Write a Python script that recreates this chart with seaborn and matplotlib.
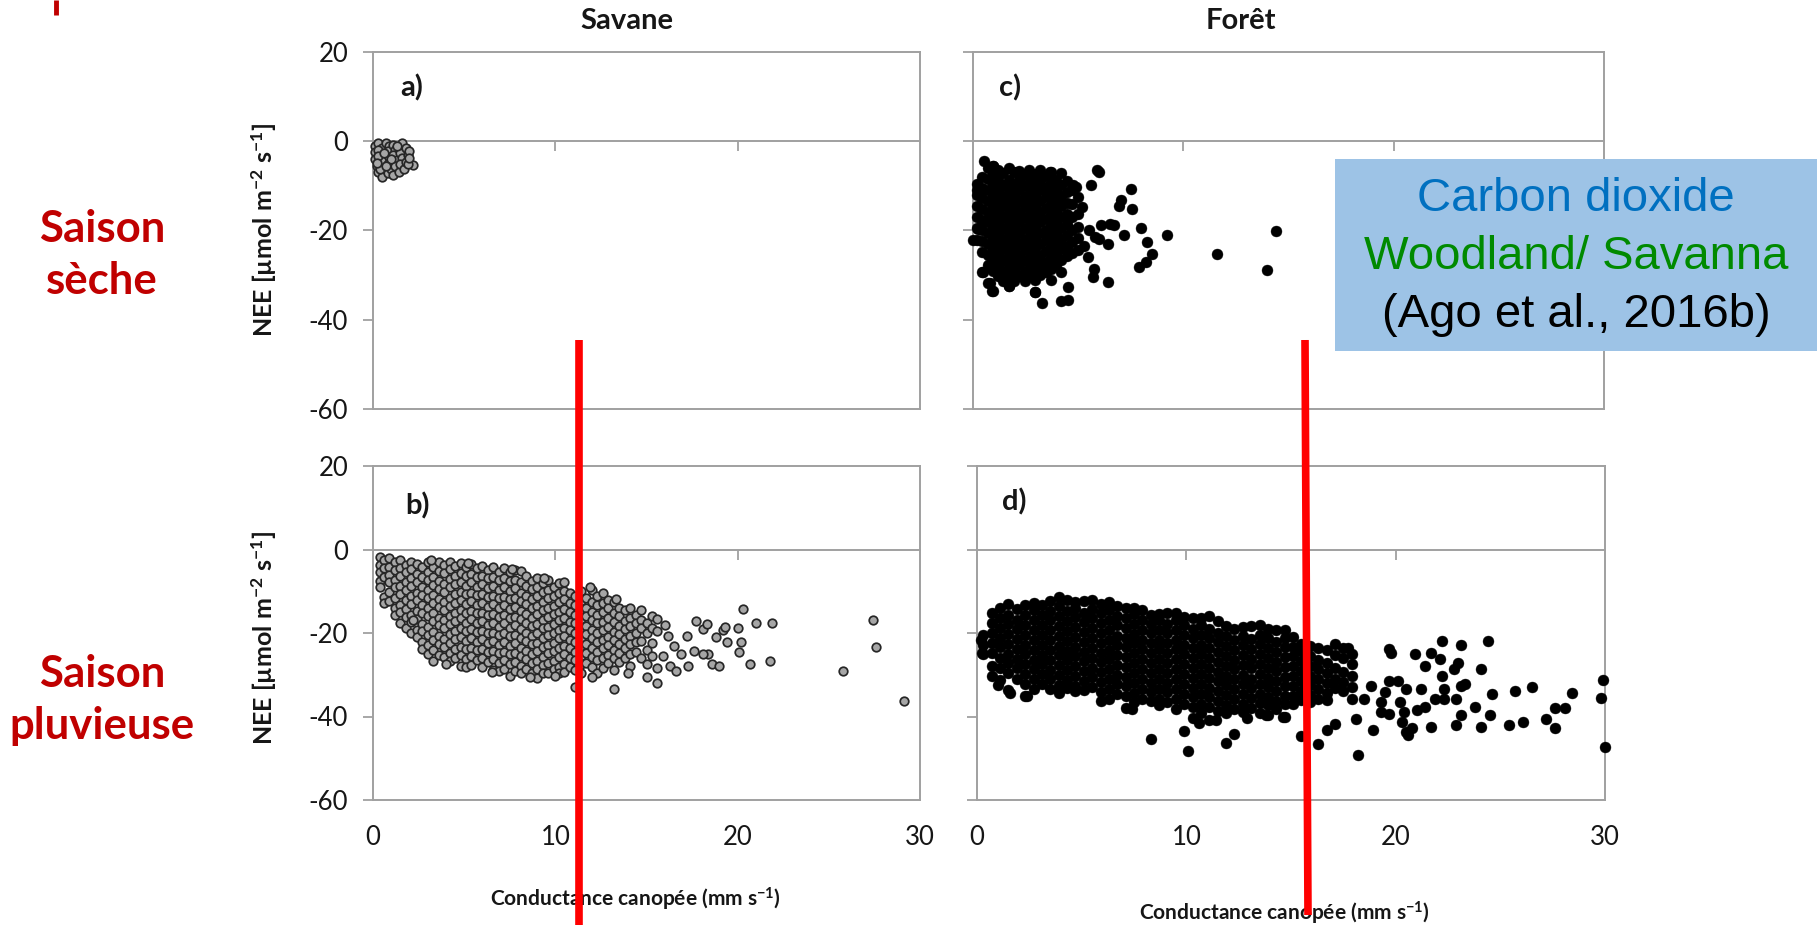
import matplotlib
matplotlib.use("Agg")
import matplotlib.pyplot as plt
import seaborn as sns
import pandas as pd
from matplotlib.lines import Line2D
from matplotlib.patches import Rectangle

# ---------------- data ----------------
# x = canopy conductance (mm s-1), y = NEE (umol m-2 s-1)
x_ticks = [0, 10, 20, 30]
y_ticks = [-60, -40, -20, 0, 20]

# a) Savane, saison seche
a_pts = [(0.1, -1.0), (0.1, -2.5), (0.1, -4.0), (0.2, -5.5), (0.3, -7.0), (0.5, -8.0),
         (0.3, -0.5), (0.5, -1.5), (0.5, -3.0), (0.5, -4.5), (0.6, -6.0), (0.8, -7.2),
         (0.7, -0.3), (0.9, -1.0), (0.8, -2.2), (0.9, -3.6), (0.8, -5.0), (1.0, -6.3),
         (1.1, -7.5), (1.1, -0.8), (1.2, -2.0), (1.1, -3.0), (1.3, -4.2), (1.2, -5.5),
         (1.4, -6.8), (1.4, -1.2), (1.5, -2.6), (1.6, -3.8), (1.5, -5.0), (1.7, -6.2),
         (1.6, -0.4), (1.8, -1.6), (1.9, -3.0), (1.8, -4.6), (2.0, -2.2), (2.2, -5.4),
         (0.3, -2.0), (0.3, -3.4), (0.6, -2.6), (1.0, -4.0), (0.4, -6.2), (0.2, -4.8),
         (1.3, -1.0), (0.7, -5.5), (1.9, -5.0), (2.0, -3.8)]

# b) Savane, saison pluvieuse (dense band, column by column)
b_core_gc = [0.4, 0.6, 0.9, 1.2, 1.5, 1.8, 2.1, 2.4, 2.7, 3.0, 3.3, 3.6, 3.9, 4.2, 4.5,
             4.8, 5.1, 5.4, 5.7, 6.0, 6.3, 6.6, 6.9, 7.2, 7.5, 7.8, 8.1, 8.4, 8.7, 9.0,
             9.3, 9.6, 9.9, 10.2, 10.5, 10.8, 11.1, 11.4, 11.7, 12.0, 12.3, 12.6, 12.9,
             13.2, 13.5, 13.8, 14.1, 14.4, 14.7, 15.0, 15.3, 15.6]
b_core_nee = [
    [-1.8, -3.6, -5.3, -7.6, -9.1],
    [-2.6, -4.4, -6.7, -11.4, -12.9],
    [-2.0, -4.1, -6.2, -7.9, -10.2, -12.4],
    [-3.1, -4.9, -7.2, -9.0, -11.6, -14.1, -15.8],
    [-2.4, -4.4, -6.3, -8.7, -10.6, -13.2, -15.0, -17.6],
    [-3.6, -5.3, -7.8, -9.6, -12.1, -14.3, -16.2, -18.7],
    [-2.9, -4.7, -6.9, -8.8, -11.2, -13.0, -15.6, -17.4, -20.1],
    [-3.5, -5.9, -7.8, -10.3, -12.2, -14.8, -16.6, -19.2, -21.0],
    [-4.3, -6.5, -8.9, -10.8, -13.3, -15.2, -17.8, -19.6, -22.1, -23.8],
    [-3.0, -5.3, -7.2, -9.7, -11.6, -14.1, -16.0, -18.5, -20.4, -22.9, -25.1],
    [-4.1, -6.6, -8.4, -10.9, -12.8, -15.3, -17.2, -19.7, -21.6, -24.1, -26.6],
    [-2.9, -5.1, -7.5, -9.4, -11.9, -13.8, -16.3, -18.2, -20.7, -22.6, -25.2],
    [-3.7, -5.7, -8.2, -10.1, -12.6, -14.5, -17.0, -18.9, -21.4, -23.3, -25.8],
    [-3.0, -4.7, -7.1, -9.1, -11.5, -13.5, -15.9, -17.9, -20.3, -22.3, -24.7, -26.6],
    [-3.9, -6.3, -8.3, -10.7, -12.7, -15.1, -17.1, -19.5, -21.5, -23.9, -26.1],
    [-3.3, -5.7, -7.7, -10.1, -12.1, -14.5, -16.5, -18.9, -20.9, -23.3, -25.3, -27.9],
    [-4.3, -6.3, -8.7, -10.7, -13.1, -15.1, -17.5, -19.5, -21.9, -23.9, -26.3, -28.1],
    [-3.5, -5.9, -7.9, -10.3, -12.3, -14.7, -16.7, -19.1, -21.1, -23.5, -25.5, -27.6],
    [-4.5, -6.5, -8.9, -10.9, -13.3, -15.3, -17.7, -19.7, -22.1, -24.1, -26.5],
    [-3.9, -6.3, -8.3, -10.7, -12.7, -15.1, -17.1, -19.5, -21.5, -23.9, -25.9, -28.1],
    [-4.9, -6.9, -9.3, -11.3, -13.7, -15.7, -18.1, -20.1, -22.5, -24.5, -26.9],
    [-4.3, -6.7, -8.7, -11.1, -13.1, -15.5, -17.5, -19.9, -21.9, -24.3, -26.3, -28.9],
    [-5.3, -7.3, -9.7, -11.7, -14.1, -16.1, -18.5, -20.5, -22.9, -24.9, -27.3, -29.1],
    [-4.5, -6.9, -8.9, -11.3, -13.3, -15.7, -17.7, -20.1, -22.1, -24.5, -26.5, -28.7],
    [-5.5, -7.5, -9.9, -11.9, -14.3, -16.3, -18.7, -20.7, -23.1, -25.1, -27.5, -30.3],
    [-4.9, -7.3, -9.3, -11.7, -13.7, -16.1, -18.1, -20.5, -22.5, -24.9, -26.9, -29.1],
    [-5.1, -7.9, -10.3, -12.3, -14.7, -16.7, -19.1, -21.1, -23.5, -25.5, -27.9, -29.7],
    [-6.3, -8.7, -11.1, -13.1, -15.5, -17.5, -19.9, -21.9, -24.3, -26.3, -28.7],
    [-7.5, -9.5, -11.9, -13.9, -16.3, -18.3, -20.7, -22.7, -25.1, -27.1, -29.5],
    [-6.9, -9.1, -11.1, -13.5, -15.5, -17.9, -19.9, -22.3, -24.3, -26.7, -28.7, -30.7],
    [-8.1, -10.1, -12.5, -14.5, -16.9, -18.9, -21.3, -23.3, -25.7, -27.7, -29.5],
    [-7.3, -9.7, -11.7, -14.1, -16.1, -18.5, -20.5, -22.9, -24.9, -27.3, -29.7],
    [-9.1, -11.1, -13.5, -15.5, -17.9, -19.9, -22.3, -24.3, -26.7, -28.7],
    [-8.1, -10.5, -12.5, -14.9, -16.9, -19.3, -21.3, -23.7, -25.7, -28.1, -29.7],
    [-7.7, -9.9, -11.9, -14.3, -16.3, -18.7, -20.7, -23.1, -25.1, -27.5, -29.3],
    [-10.5, -12.9, -14.9, -17.3, -19.3, -21.7, -23.7, -26.1, -28.1],
    [-11.1, -13.3, -15.7, -17.7, -20.1, -22.1, -24.5, -26.5, -28.9, -32.9],
    [-9.9, -12.3, -14.3, -16.7, -18.7, -21.1, -23.1, -25.5, -27.5, -29.5],
    [-11.5, -13.9, -15.9, -18.3, -20.3, -22.7, -24.7, -27.1],
    [-9.7, -12.5, -14.9, -16.9, -19.3, -21.3, -23.7, -25.7, -28.1],
    [-11.1, -13.3, -15.7, -17.7, -20.1, -22.1, -24.5, -26.5, -29.7],
    [-10.5, -12.9, -14.9, -17.3, -19.3, -21.7, -23.7, -26.1, -28.3],
    [-12.1, -14.1, -16.5, -18.5, -20.9, -22.9, -25.3, -27.1],
    [-12.5, -15.3, -17.3, -19.7, -21.7, -24.1, -26.1, -28.9, -33.5],
    [-13.9, -15.9, -18.3, -20.3, -22.7, -24.7, -26.9],
    [-14.5, -17.1, -19.1, -21.5, -23.5, -25.9],
    [-13.9, -16.3, -18.3, -20.7, -22.7, -25.1, -27.9],
    [-15.7, -17.7, -20.1, -22.1, -24.5],
    [-14.5, -16.9, -18.9, -21.9, -25.9],
    [-17.5, -19.9, -24.1, -27.5, -30.5],
    [-15.9, -18.7, -22.5, -25.5],
    [-16.7, -19.5, -28.5, -31.9],
]
b_out = [(16.2, -20.6), (16.5, -23.0), (16.9, -25.0), (17.3, -27.8), (16.3, -27.8),
         (17.2, -20.6), (17.7, -17.1), (18.1, -19.0), (18.3, -17.8), (18.4, -25.0),
         (18.6, -27.4), (19.0, -27.8), (18.8, -21.0), (19.2, -19.4), (19.3, -18.6),
         (19.4, -22.2), (20.0, -18.7), (20.3, -14.2), (20.2, -22.2), (20.1, -24.6),
         (20.7, -27.4), (21.0, -17.5), (21.9, -17.5), (21.8, -26.6), (25.8, -29.0),
         (27.4, -16.8), (27.6, -23.4), (29.1, -36.3), (18.1, -25.0), (17.6, -24.4),
         (16.0, -18.0), (15.9, -25.5), (16.6, -29.0),
         (2.2, -17.0), (4.0, -27.5), (6.5, -29.3), (8.6, -30.5), (10.0, -30.4),
         (12.0, -30.6), (14.0, -29.5), (11.9, -8.9), (13.3, -11.8), (7.6, -4.6),
         (5.2, -3.3), (3.2, -2.6), (9.4, -6.8)]

# c) Foret, saison seche
c_core_gc = [0.2, 0.45, 0.7, 0.95, 1.2, 1.45, 1.7, 1.95, 2.2, 2.45, 2.7, 2.95, 3.2,
             3.45, 3.7, 3.95, 4.2, 4.45, 4.7, 5.0]
c_core_nee = [
    [-9.5, -12.0, -14.5, -17.0, -19.5, -22.2],
    [-8.0, -10.4, -12.8, -15.2, -17.6, -20.0, -22.4, -24.8, -29.2],
    [-6.0, -8.5, -11.0, -13.4, -15.8, -18.2, -20.6, -23.0, -25.4, -27.8, -31.8],
    [-5.6, -7.4, -9.8, -12.2, -14.6, -17.0, -19.4, -21.8, -24.2, -26.6, -29.0, -33.5],
    [-6.5, -8.6, -11.0, -13.4, -15.8, -18.2, -20.6, -23.0, -25.4, -27.8, -30.2],
    [-7.2, -9.8, -12.2, -14.6, -17.0, -19.4, -21.8, -24.2, -26.6, -29.0, -31.4],
    [-6.0, -8.6, -11.0, -13.4, -15.8, -18.2, -20.6, -23.0, -25.4, -27.8, -30.2, -32.4],
    [-7.0, -9.8, -12.2, -14.6, -17.0, -19.4, -21.8, -24.2, -26.6, -29.0, -31.4],
    [-6.7, -8.6, -11.0, -13.4, -15.8, -18.2, -20.6, -23.0, -25.4, -27.8, -30.2],
    [-7.4, -9.8, -12.2, -14.6, -17.0, -19.4, -21.8, -24.2, -26.6, -29.0, -31.4],
    [-8.2, -10.6, -13.0, -15.4, -17.8, -20.2, -22.6, -25.0, -27.4, -29.8],
    [-7.4, -9.4, -11.8, -14.2, -16.6, -19.0, -21.4, -23.8, -26.2, -28.6, -31.0, -33.8],
    [-8.6, -11.0, -13.4, -15.8, -18.2, -20.6, -23.0, -25.4, -27.8, -30.0],
    [-7.8, -10.2, -12.6, -15.0, -17.4, -19.8, -22.2, -24.6, -27.0, -29.4],
    [-7.0, -9.4, -11.8, -14.2, -16.6, -19.0, -21.4, -23.8, -26.2, -28.6, -31.0],
    [-8.6, -11.0, -13.4, -15.8, -18.2, -20.6, -23.0, -25.4, -27.8],
    [-9.8, -12.2, -14.6, -17.0, -19.4, -21.8, -24.2, -26.6, -29.4],
    [-9.0, -11.4, -13.8, -16.2, -18.6, -21.0, -23.4, -25.8],
    [-11.0, -14.0, -17.0, -20.0, -22.6, -25.0],
    [-12.6, -16.4, -19.2, -21.6, -24.4],
]
c_out = [(14.4, -20.1), (11.6, -25.2), (14.0, -28.8), (9.2, -20.9), (7.5, -10.6),
         (7.05, -13.2), (6.93, -14.6), (7.55, -15.1), (8.0, -19.4), (8.26, -22.6),
         (8.5, -25.2), (8.23, -27.1), (7.9, -28.2), (7.2, -20.9), (6.4, -31.5),
         (6.0, -6.9), (5.9, -6.4), (5.6, -9.9), (5.2, -14.7), (4.9, -10.2), (4.75, -9.8),
         (4.2, -7.2), (3.65, -6.8), (3.2, -6.5), (2.64, -6.5), (2.15, -6.9), (0.52, -4.4),
         (0.93, -5.6), (3.27, -36.3), (4.2, -35.8), (4.5, -35.5), (4.5, -32.6),
         (2.94, -33.8), (1.72, -32.4), (0.88, -33.5), (0.8, -31.8), (0.49, -29.2),
         (5.7, -30.4), (5.75, -28.6), (5.46, -26.0), (6.4, -23.0), (6.5, -18.5),
         (6.7, -18.8), (6.1, -18.8), (0.0, -22.2), (0.17, -11.0), (0.25, -19.6),
         (5.5, -20.0), (5.8, -21.5), (5.3, -23.5), (6.0, -22.0)]

# d) Foret, saison pluvieuse
d_core_gc = [0.3, 0.7, 1.1, 1.5, 1.9, 2.3, 2.7, 3.1, 3.5, 3.9, 4.3, 4.7, 5.1, 5.5, 5.9,
             6.3, 6.7, 7.1, 7.5, 7.9, 8.3, 8.7, 9.1, 9.5, 9.9, 10.3, 10.7, 11.1, 11.5,
             11.9, 12.3, 12.7, 13.1, 13.5, 13.9, 14.3, 14.7, 15.1, 15.5, 15.9, 16.3,
             16.7, 17.1, 17.5, 17.9]
d_core_nee = [
    [-20.5, -22.8, -25.0],
    [-15.2, -17.6, -20.1, -22.4, -24.9, -27.8, -30.2],
    [-14.0, -16.5, -18.7, -21.2, -23.4, -25.9, -28.4, -31.2],
    [-13.1, -15.6, -17.9, -20.3, -22.6, -25.0, -27.3, -29.6, -33.6],
    [-14.3, -16.8, -19.0, -21.5, -23.8, -26.2, -28.5, -31.0],
    [-13.4, -15.7, -18.1, -20.4, -22.8, -25.1, -27.5, -29.8, -32.2, -35.0],
    [-12.9, -14.6, -17.0, -19.3, -21.7, -24.0, -26.4, -28.7, -31.1, -33.3],
    [-13.3, -15.8, -18.1, -20.5, -22.8, -25.2, -27.5, -29.9, -32.2],
    [-12.4, -14.7, -17.0, -19.4, -21.7, -24.1, -26.4, -28.8, -31.1, -33.5],
    [-11.4, -13.6, -15.9, -18.3, -20.6, -23.0, -25.3, -27.7, -30.0, -32.4, -34.4],
    [-12.2, -14.8, -17.1, -19.5, -21.8, -24.2, -26.5, -28.9, -31.2, -33.2],
    [-12.6, -13.9, -16.2, -18.6, -20.9, -23.3, -25.6, -28.0, -30.3, -32.7, -34.0],
    [-12.4, -15.1, -17.4, -19.8, -22.1, -24.5, -26.8, -29.2, -31.5, -33.6],
    [-12.0, -14.2, -16.5, -18.9, -21.2, -23.6, -25.9, -28.3, -30.6, -33.0],
    [-13.1, -15.3, -17.6, -20.0, -22.3, -24.7, -27.0, -29.4, -31.7, -34.1, -36.4],
    [-12.5, -14.6, -16.9, -19.3, -21.6, -24.0, -26.3, -28.7, -31.0, -33.4, -35.9],
    [-13.6, -15.9, -18.2, -20.6, -22.9, -25.3, -27.6, -30.0, -32.3, -34.7],
    [-14.1, -16.4, -18.7, -21.1, -23.4, -25.8, -28.1, -30.5, -32.8, -35.2, -38.0],
    [-13.9, -15.5, -17.8, -20.2, -22.5, -24.9, -27.2, -29.6, -31.9, -34.3, -36.5],
    [-14.6, -16.9, -19.2, -21.6, -23.9, -26.3, -28.6, -31.0, -33.3, -35.7],
    [-15.6, -17.8, -20.1, -22.5, -24.8, -27.2, -29.5, -31.9, -34.2, -36.4, -45.5],
    [-15.4, -16.9, -19.2, -21.6, -23.9, -26.3, -28.6, -31.0, -33.3, -35.7, -37.2],
    [-15.1, -17.8, -20.1, -22.5, -24.8, -27.2, -29.5, -31.9, -34.2, -36.6],
    [-15.3, -16.9, -19.2, -21.6, -23.9, -26.3, -28.6, -31.0, -33.3, -35.7, -38.1],
    [-16.2, -18.1, -20.4, -22.8, -25.1, -27.5, -29.8, -32.2, -34.5, -36.9, -43.4],
    [-16.5, -19.0, -21.3, -23.7, -26.0, -28.4, -30.7, -33.1, -35.4, -37.8, -40.4],
    [-16.4, -18.1, -20.4, -22.8, -25.1, -27.5, -29.8, -32.2, -34.5, -36.9, -39.1],
    [-16.0, -19.0, -21.3, -23.7, -26.0, -28.4, -30.7, -33.1, -35.4, -37.8, -40.8],
    [-17.2, -19.9, -22.2, -24.6, -26.9, -29.3, -31.6, -34.0, -36.3, -38.6],
    [-18.3, -20.8, -23.1, -25.5, -27.8, -30.2, -32.5, -34.9, -37.2, -39.2, -46.3],
    [-19.0, -21.7, -24.0, -26.4, -28.7, -31.1, -33.4, -35.8, -38.1, -44.2],
    [-18.5, -20.6, -22.9, -25.3, -27.6, -30.0, -32.3, -34.7, -37.0, -38.9],
    [-18.4, -21.5, -23.8, -26.2, -28.5, -30.9, -33.2, -35.6, -37.9],
    [-18.0, -20.4, -22.7, -25.1, -27.4, -29.8, -32.1, -34.5, -36.8, -39.2],
    [-19.1, -21.3, -23.6, -26.0, -28.3, -30.7, -33.0, -35.4, -37.2, -39.7],
    [-19.4, -22.2, -24.5, -26.9, -29.2, -31.6, -33.9, -36.3, -38.2],
    [-19.3, -21.1, -23.4, -25.8, -28.1, -30.5, -32.8, -35.2, -37.0, -40.1],
    [-21.0, -23.3, -25.6, -28.0, -30.3, -32.7, -35.0, -37.1],
    [-22.6, -24.4, -26.7, -29.1, -31.4, -33.8, -36.1, -44.7],
    [-23.0, -25.5, -27.8, -30.2, -32.5, -34.9, -36.6],
    [-23.6, -26.4, -28.7, -31.1, -33.4, -35.8, -46.6],
    [-24.1, -27.3, -29.6, -32.0, -34.3, -36.1, -43.2],
    [-22.7, -25.2, -28.5, -30.9, -33.2, -41.7],
    [-23.5, -26.1, -29.4, -31.8, -34.0],
    [-25.0, -27.5, -30.3, -32.9, -35.7],
]
d_out = [(19.7, -23.9), (19.8, -24.7), (20.9, -25.1), (22.2, -22.0), (23.1, -22.8),
         (24.4, -22.0), (21.7, -24.7), (22.1, -26.2), (23.0, -27.2), (24.1, -28.6),
         (21.4, -27.8), (22.2, -30.2), (22.8, -28.6), (23.3, -32.2), (24.6, -34.7),
         (25.7, -33.9), (26.5, -33.0), (28.4, -34.4), (29.9, -31.2), (29.8, -35.5),
         (30.0, -47.4), (24.5, -39.7), (24.1, -42.5), (25.4, -42.0), (26.1, -41.4),
         (27.2, -40.5), (27.6, -37.9), (28.1, -37.9), (27.6, -42.7), (23.8, -37.8),
         (22.9, -42.1), (21.7, -42.5), (21.4, -37.7), (21.0, -38.5), (20.4, -38.9),
         (20.6, -44.4), (20.5, -43.6), (20.8, -42.8), (20.3, -41.3), (19.7, -39.5),
         (19.3, -38.9), (21.9, -35.7), (22.3, -33.4), (21.2, -33.4), (20.2, -36.5),
         (19.7, -31.4), (19.5, -34.2), (18.8, -32.6), (18.5, -35.7), (19.3, -36.5),
         (20.1, -31.4), (20.5, -33.4), (22.9, -35.7), (23.1, -39.7), (23.1, -32.6),
         (22.3, -35.7), (10.1, -48.2), (18.2, -49.3), (18.1, -40.5), (18.9, -43.2),
         (2.4, -35.1), (7.4, -38.1), (10.6, -41.5), (11.4, -40.9), (12.9, -40.3),
         (13.8, -39.7), (14.6, -40.1), (0.2, -21.7), (0.25, -24.8), (1.0, -32.4),
         (1.6, -34.3), (17.7, -23.5)]


def to_frame(core_gc, core_nee, extra):
    xs, ys = [], []
    for gx, col in zip(core_gc, core_nee):
        for v in col:
            xs.append(gx)
            ys.append(v)
    for gx, v in extra:
        xs.append(gx)
        ys.append(v)
    return pd.DataFrame({"gc": xs, "nee": ys})


df_a = to_frame([], [], a_pts)
df_b = to_frame(b_core_gc, b_core_nee, b_out)
df_c = to_frame(c_core_gc, c_core_nee, c_out)
df_d = to_frame(d_core_gc, d_core_nee, d_out)

# ---------------- figure ----------------
sns.set_theme(style="white")
plt.rcParams["font.family"] = ["Lato", "DejaVu Sans"]
plt.rcParams["axes.unicode_minus"] = False
plt.rcParams["mathtext.fontset"] = "custom"
plt.rcParams["mathtext.rm"] = "Lato:bold"
plt.rcParams["mathtext.it"] = "Lato:bold"
plt.rcParams["mathtext.bf"] = "Lato:bold"

W, H = 1817, 925
fig = plt.figure(figsize=(W / 100, H / 100), dpi=100)
fig.patch.set_facecolor("white")


def rect(l, t, r, b):
    return [l / W, 1 - b / H, (r - l) / W, (b - t) / H]


GRAY = "#A0A0A0"
TXT = "#161616"


def style(ax, left_labels, bottom_labels):
    ax.set_xlim(0, 30)
    ax.set_ylim(-60, 20)
    ax.set_facecolor("white")
    for s in ax.spines.values():
        s.set_visible(True)
        s.set_color(GRAY)
        s.set_linewidth(1.4)
    ax.set_yticks(y_ticks)
    ax.set_xticks(x_ticks)
    ax.tick_params(axis="y", direction="out", length=7, width=1.3, color=GRAY,
                   left=True, labelleft=left_labels, labelsize=18.5,
                   labelcolor=TXT, pad=11)
    ax.tick_params(axis="x", bottom=True, length=0, labelbottom=bottom_labels,
                   labelsize=18.5, labelcolor=TXT, pad=18)
    ax.set_xlabel("")
    ax.set_ylabel("")
    ax.grid(False)
    sec = ax.secondary_xaxis(0.75)
    sec.set_alignment("bottom")
    sec.set_xticks([10, 20])
    sec.tick_params(axis="x", direction="out", length=7, width=1.3, color=GRAY,
                    bottom=True, labelbottom=False, labeltop=False)
    sec.spines["bottom"].set_color(GRAY)
    sec.spines["bottom"].set_linewidth(1.4)


ax_a = fig.add_axes(rect(373, 52, 920, 409))
ax_c = fig.add_axes(rect(973, 52, 1604, 409))
ax_b = fig.add_axes(rect(373, 466, 920, 800))
ax_d = fig.add_axes(rect(977, 466, 1605, 800))

sav_kw = dict(s=38, color="#A6A6A6", edgecolor="#262626", linewidth=1.25,
              legend=False, clip_on=False, zorder=3)
for_kw = dict(s=62, color="black", edgecolor="black", linewidth=0.3,
              legend=False, clip_on=False, zorder=3)

sns.scatterplot(data=df_a, x="gc", y="nee", ax=ax_a, **sav_kw)
sns.scatterplot(data=df_b, x="gc", y="nee", ax=ax_b, **sav_kw)
sns.scatterplot(data=df_c, x="gc", y="nee", ax=ax_c, **for_kw)
sns.scatterplot(data=df_d, x="gc", y="nee", ax=ax_d, **for_kw)

style(ax_a, True, False)
style(ax_c, False, False)
style(ax_b, True, True)
style(ax_d, False, True)

for ax, lab, px, py in [(ax_a, "a)", 0.07, 0.90), (ax_c, "c)", 0.059, 0.90),
                        (ax_b, "b)", 0.082, 0.88), (ax_d, "d)", 0.059, 0.892)]:
    ax.text(px, py, lab, transform=ax.transAxes, ha="center", va="center",
            fontsize=21, fontweight="bold", color=TXT)

# column titles
fig.text(627 / W, 1 - 21 / H, "Savane", ha="center", va="center", fontsize=21,
         fontweight="bold", color=TXT)
fig.text(1241 / W, 1 - 21 / H, "Forêt", ha="center", va="center", fontsize=21,
         fontweight="bold", color=TXT)

# y labels
ylab = "NEE [µmol m$^{-2}$ s$^{-1}$]"
fig.text(264 / W, 1 - 230 / H, ylab, rotation=90, ha="center", va="center",
         fontsize=18, fontweight="bold", color=TXT)
fig.text(264 / W, 1 - 638 / H, ylab, rotation=90, ha="center", va="center",
         fontsize=18, fontweight="bold", color=TXT)

# x labels
xlab = "Conductance canopée (mm s$^{-1}$)"
fig.text(635 / W, 1 - 899 / H, xlab, ha="center", va="center", fontsize=15,
         fontweight="bold", color=TXT)
fig.text(1284 / W, 1 - 913 / H, xlab, ha="center", va="center", fontsize=15,
         fontweight="bold", color=TXT)

# row labels
fig.text(102 / W, 1 - 255 / H, "Saison\nsèche", ha="center", va="center",
         fontsize=31.5, fontweight="bold", color="#C00000", linespacing=1.38)
fig.text(102 / W, 1 - 700 / H, "Saison\npluvieuse", ha="center", va="center",
         fontsize=31.5, fontweight="bold", color="#C00000", linespacing=1.38)

# blue info box
fig.add_artist(Rectangle((1335 / W, 1 - 351 / H), (W - 1335) / W, 192 / H,
                         transform=fig.transFigure, facecolor="#9DC3E6",
                         edgecolor="none", zorder=5))
for txt, col, yy in [("Carbon dioxide", "#0070C0", 199),
                     ("Woodland/ Savanna", "#008A00", 257),
                     ("(Ago et al., 2016b)", "black", 315)]:
    fig.text(1576 / W, 1 - yy / H, txt, ha="center", va="center", fontsize=34,
             family="Liberation Sans", color=col, zorder=6)

# red vertical markers
fig.add_artist(Line2D([579 / W, 579 / W], [1 - 340 / H, 0.0], transform=fig.transFigure,
                      color="#FF0000", linewidth=5.5, solid_capstyle="butt", zorder=10))
fig.add_artist(Line2D([1305 / W, 1308 / W], [1 - 340 / H, 1 - 915 / H],
                      transform=fig.transFigure, color="#FF0000", linewidth=5.5,
                      solid_capstyle="butt", zorder=10))
# cropped fragment at the top-left edge
fig.add_artist(Line2D([56 / W, 56 / W], [1.0, 1 - 15 / H], transform=fig.transFigure,
                      color="#C00000", linewidth=3.5, solid_capstyle="butt", zorder=10))

fig.savefig("out.png", dpi=100, facecolor="white")
